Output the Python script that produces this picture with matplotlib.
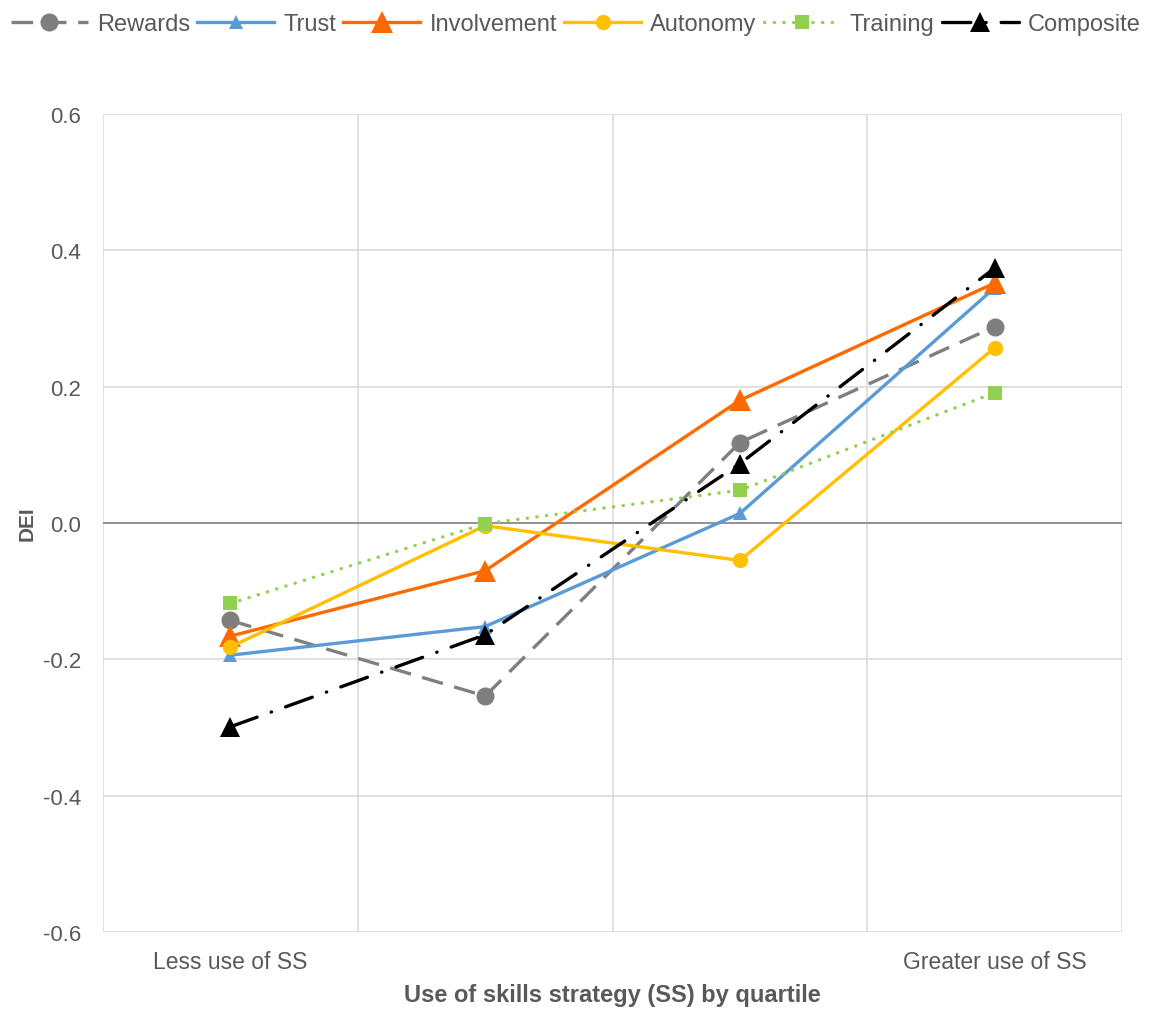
import matplotlib
matplotlib.use("Agg")
import matplotlib.pyplot as plt
from matplotlib.ticker import FixedLocator, FuncFormatter

plt.rcParams['font.family'] = ['Liberation Sans', 'DejaVu Sans']

categories = ["Less use of SS", "", "", "Greater use of SS"]
rewards = [-0.143, -0.254, 0.118, 0.288]
trust = [-0.194, -0.152, 0.014, 0.345]
involvement = [-0.166, -0.070, 0.180, 0.352]
autonomy = [-0.182, -0.004, -0.055, 0.257]
training = [-0.118, -0.001, 0.048, 0.191]
composite = [-0.299, -0.164, 0.087, 0.374]

series = [
    ("Rewards", rewards, dict(color="#7F7F7F", linestyle=(0, (6.5, 3.5)), marker="o", markersize=13)),
    ("Trust", trust, dict(color="#5B9BD5", linestyle="-", marker="^", markersize=10)),
    ("Involvement", involvement, dict(color="#FF6A00", linestyle="-", marker="^", markersize=16)),
    ("Autonomy", autonomy, dict(color="#FFC000", linestyle="-", marker="o", markersize=11)),
    ("Training", training, dict(color="#92D050", linestyle=(0, (0.1, 2.8)), dash_capstyle="round",
                                 marker="s", markersize=9.5)),
    ("Composite", composite, dict(color="#000000", linestyle=(0, (8.5, 4.5, 0.1, 4.5)),
                                  dash_capstyle="round", marker="^", markersize=15)),
]

fig = plt.figure(figsize=(11.54, 10.12), dpi=100)
ax = fig.add_axes([0.0893, 0.0781, 0.8830, 0.8083])

x = list(range(len(categories)))
for name, vals, style in series:
    ax.plot(x, vals, label=name, linewidth=2.4, markeredgewidth=0, **style)

ax.set_xlim(-0.5, 3.5)
ax.set_ylim(-0.6, 0.6)
ax.yaxis.set_major_locator(FixedLocator([-0.6, -0.4, -0.2, 0.0, 0.2, 0.4, 0.6]))
ax.yaxis.set_major_formatter(FuncFormatter(lambda v, p: f"{v:.1f}"))
ax.set_xticks(x)
ax.set_xticklabels(categories)
ax.xaxis.set_minor_locator(FixedLocator([-0.5, 0.5, 1.5, 2.5, 3.5]))

ax.grid(axis="y", which="major", color="#D9D9D9", linewidth=1.1, zorder=0)
ax.grid(axis="x", which="minor", color="#D9D9D9", linewidth=1.1, zorder=0)
ax.axhline(0, color="#8C8C8C", linewidth=1.3, zorder=1)
for s in ax.spines.values():
    s.set_visible(False)
ax.tick_params(axis="both", which="both", length=0, labelsize=16, colors="#595959")
ax.tick_params(axis="x", labelsize=16.5, pad=13)
ax.tick_params(axis="y", pad=16)
ax.set_axisbelow(True)

ax.set_xlabel("Use of skills strategy (SS) by quartile", fontsize=17, fontweight="bold",
              color="#595959", labelpad=7)
ax.set_ylabel("DEI", fontsize=15, fontweight="bold", color="#595959", labelpad=4)

fig.legend(loc="upper center", bbox_to_anchor=(0.499, 1.007), ncol=6, frameon=False,
           fontsize=17, labelcolor="#595959", handlelength=3.25, columnspacing=0.3,
           handletextpad=0.4)

fig.savefig("out.png", dpi=100, facecolor="white")
